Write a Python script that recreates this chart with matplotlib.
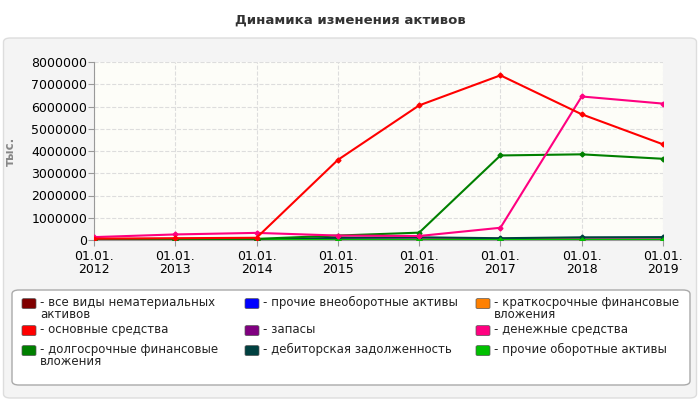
import matplotlib
matplotlib.use("Agg")
import matplotlib.pyplot as plt
from matplotlib.patches import FancyBboxPatch

dates = ["01.01.\n2012","01.01.\n2013","01.01.\n2014","01.01.\n2015","01.01.\n2016","01.01.\n2017","01.01.\n2018","01.01.\n2019"]
nonmat = [0,0,0,0,0,0,0,0]
osn = [60000,80000,100000,3600000,6050000,7400000,5650000,4300000]
dolg = [40000,50000,50000,200000,330000,3800000,3850000,3650000]
proch_vne = [0,0,0,0,0,0,0,0]
zapasy = [5000,5000,5000,30000,30000,30000,30000,30000]
deb = [10000,10000,20000,100000,120000,80000,120000,130000]
kratk = [5000,5000,5000,5000,5000,60000,10000,10000]
den = [130000,250000,320000,200000,180000,550000,6450000,6130000]
proch_ob = [20000,20000,20000,20000,20000,20000,20000,20000]

series = [
 ("все виды нематериальных\nактивов", nonmat, "#800000"),
 ("основные средства", osn, "#ff0000"),
 ("долгосрочные финансовые\nвложения", dolg, "#008000"),
 ("прочие внеоборотные активы", proch_vne, "#0000ff"),
 ("запасы", zapasy, "#800080"),
 ("дебиторская задолженность", deb, "#004040"),
 ("краткосрочные финансовые\nвложения", kratk, "#ff8000"),
 ("денежные средства", den, "#ff0080"),
 ("прочие оборотные активы", proch_ob, "#00c000"),
]
draw_order = [0,3,4,6,5,8,2,7,1]

fig = plt.figure(figsize=(7,4), dpi=100)
fig.patch.set_facecolor("white")
fig.add_artist(FancyBboxPatch((0.005,0.005),0.99,0.9,boxstyle="round,pad=0,rounding_size=0.01",
                              transform=fig.transFigure, facecolor="#f4f4f4", edgecolor="#dddddd", zorder=-10))
fig.text(0.5,0.95,"Динамика изменения активов",ha="center",va="center",fontsize=9.5,fontweight="bold",color="#333333")
ax = fig.add_axes([94/700, 1-240/400, (663-94)/700, (240-62)/400])
ax.set_facecolor("#fdfdf8")
x = list(range(len(dates)))
for i in draw_order:
    name, vals, c = series[i]
    ax.plot(x, vals, color=c, lw=1.5, marker="D", ms=2.5, zorder=3)
ax.set_xlim(0,7); ax.set_ylim(0,8000000)
ax.set_yticks(range(0,8000001,1000000))
ax.set_yticklabels([str(v) for v in range(0,8000001,1000000)], fontsize=9)
ax.set_xticks(x); ax.set_xticklabels(dates, fontsize=9, linespacing=1.0)
ax.grid(True, color="#dddddd", ls="--", lw=0.8)
for s in ["top","right"]: ax.spines[s].set_visible(False)
ax.spines["left"].set_color("#999999"); ax.spines["bottom"].set_color("#999999")
ax.tick_params(axis="y", length=4, color="#999999", pad=1)
ax.tick_params(axis="x", length=4, color="#999999", pad=3)
ax.set_ylabel("тыс.", fontsize=8.5, fontweight="bold", color="#888888", labelpad=10)

fig.add_artist(FancyBboxPatch((12/700,15/400),678/700,95/400,boxstyle="round,pad=0,rounding_size=0.01",
                              transform=fig.transFigure, facecolor="white", edgecolor="#aaaaaa", zorder=-5))
cols = [22/700, 245/700, 476/700]
rows = [[0,1,2],[3,4,5],[6,7,8]]
ys = [1-303/400, 1-330/400, 1-350/400]
for ci, col in enumerate(rows):
    for ri, idx in enumerate(col):
        name, vals, c = series[idx]
        y = ys[ri]
        fig.add_artist(FancyBboxPatch((cols[ci], y-0.014), 14/700, 10/400, boxstyle="round,pad=0,rounding_size=0.003",
                                      transform=fig.transFigure, facecolor=c, edgecolor="#555555", lw=0.5))
        fig.text(cols[ci]+18/700, y+0.018, "- "+name, fontsize=8.5, va="top", color="#222222", linespacing=0.95)
fig.savefig("out.png", dpi=100)
